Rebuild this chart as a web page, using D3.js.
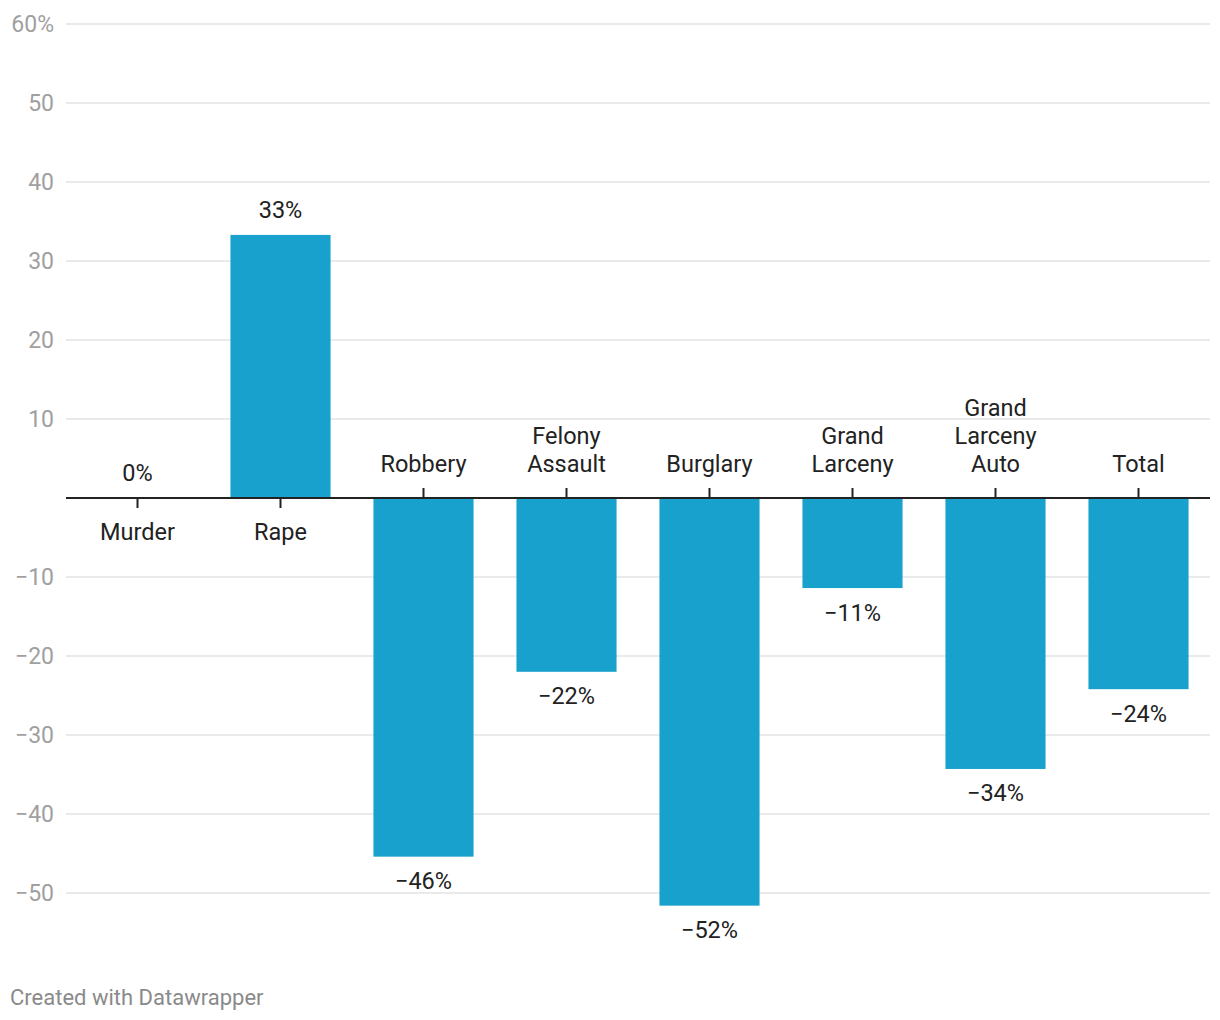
<!DOCTYPE html>
<html><head><meta charset="utf-8">
<script src="https://cdn.jsdelivr.net/npm/d3@7"></script>
<style>
body{margin:0;background:#fff;font-family:Roboto,"Noto Sans",sans-serif;}
</style></head><body>
<svg id="chart" width="1220" height="1020"></svg>
<script>
const categories = ["Murder","Rape","Robbery","Felony Assault","Burglary","Grand Larceny","Grand Larceny Auto","Total"];
const categoryLines = [["Murder"],["Rape"],["Robbery"],["Felony","Assault"],["Burglary"],["Grand","Larceny"],["Grand","Larceny","Auto"],["Total"]];
const values = [0, 33.3, -45.4, -22.0, -51.6, -11.4, -34.3, -24.2];
const valueLabels = ["0%","33%","−46%","−22%","−52%","−11%","−34%","−24%"];
const yTicks = [60,50,40,30,20,10,-10,-20,-30,-40,-50];

const svg = d3.select("#chart");
const left = 66, right = 1210;
const x = d3.scaleBand().domain(categories).range([left, right]).paddingInner(0.3).paddingOuter(0.15);
const y = d3.scaleLinear().domain([-50, 60]).range([893, 24]);
const fmt = v => (v < 0 ? "−" + Math.abs(v) : String(v)) + (v === 60 ? "%" : "");

// gridlines
svg.append("g").selectAll("line").data(yTicks).join("line")
  .attr("x1", left).attr("x2", right)
  .attr("y1", d => y(d)).attr("y2", d => y(d))
  .attr("stroke", "#e3e3e3").attr("stroke-width", 1.5);
svg.append("g").selectAll("text").data(yTicks).join("text")
  .attr("x", 54).attr("y", d => y(d)).attr("dy", "0.36em")
  .attr("text-anchor", "end").attr("fill", "#a0a0a0")
  .style("font-size", "23px").text(fmt);

// bars
svg.append("g").selectAll("rect").data(categories).join("rect")
  .attr("x", d => x(d)).attr("width", x.bandwidth())
  .attr("y", (d, i) => y(Math.max(0, values[i])))
  .attr("height", (d, i) => Math.abs(y(values[i]) - y(0)))
  .attr("fill", "#19a1cd");

// axis
svg.append("line").attr("x1", left).attr("x2", right)
  .attr("y1", y(0)).attr("y2", y(0)).attr("stroke", "#222").attr("stroke-width", 2);
const cx = d => x(d) + x.bandwidth() / 2;
svg.append("g").selectAll("line").data(categories).join("line")
  .attr("x1", cx).attr("x2", cx)
  .attr("y1", y(0))
  .attr("y2", (d, i) => values[i] < 0 ? y(0) - 10 : y(0) + 10)
  .attr("stroke", "#222").attr("stroke-width", 2);

// category labels
const lh = 28;
categories.forEach((c, i) => {
  const lines = categoryLines[i];
  const t = svg.append("text").attr("text-anchor", "middle").attr("fill", "#222")
    .style("font-size", "23.5px");
  lines.forEach((l, j) => {
    let yy;
    if (values[i] < 0) yy = y(0) - 34 - (lines.length - 1 - j) * lh;
    else yy = y(0) + 34 + j * lh;
    t.append("tspan").attr("x", cx(c)).attr("y", yy).attr("dy", "0.36em").text(l);
  });
});

// value labels
svg.append("g").selectAll("text").data(categories).join("text")
  .attr("x", cx)
  .attr("y", (d, i) => values[i] < 0 ? y(values[i]) + 24 : y(values[i]) - 25)
  .attr("dy", "0.36em").attr("text-anchor", "middle").attr("fill", "#222")
  .style("font-size", "23.5px").text((d, i) => valueLabels[i]);

svg.append("text").attr("x", 10).attr("y", 997).attr("dy", "0.36em")
  .attr("fill", "#8a8a8a").style("font-size", "22px").text("Created with Datawrapper");
</script></body></html>
